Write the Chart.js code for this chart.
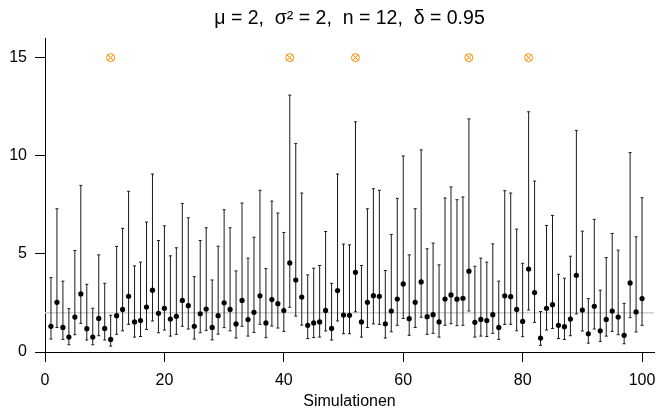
<!DOCTYPE html>
<html>
<head>
<meta charset="utf-8">
<script src="https://cdn.jsdelivr.net/npm/chart.js"></script>
<style>
  html, body { margin: 0; padding: 0; background: #fff; }
  #wrap { width: 659px; height: 411px; }
</style>
</head>
<body>
<div id="wrap"><canvas id="ciChart" width="659" height="411"></canvas></div>
<script>
// true parameter and the level the misses are marked at
const MU = 2;
const MISS_Y = 15;
const TITLE = 'μ = 2,  σ² = 2,  n = 12,  δ = 0.95';
const X_TICKS = [0, 20, 40, 60, 80, 100];
const Y_TICKS = [0, 5, 10, 15];

// point estimates for simulations 1..100
const estimate = [
  1.31, 2.53, 1.25, 0.76, 1.78, 2.96, 1.19, 0.76, 1.71, 1.20,
  0.64, 1.85, 2.17, 2.84, 1.53, 1.60, 2.29, 3.15, 1.97, 2.23,
  1.68, 1.82, 2.63, 2.36, 1.31, 1.95, 2.19, 1.25, 1.85, 2.51,
  2.17, 1.43, 2.63, 1.65, 2.02, 2.86, 1.48, 2.67, 2.46, 2.11,
  4.54, 3.67, 2.80, 1.36, 1.48, 1.53, 2.12, 1.20, 3.13, 1.88,
  1.87, 4.06, 1.53, 2.53, 2.87, 2.84, 1.44, 2.09, 2.70, 3.47,
  1.70, 2.53, 3.57, 1.80, 1.90, 1.53, 2.70, 2.91, 2.69, 2.74,
  4.12, 1.51, 1.66, 1.60, 1.90, 1.25, 2.86, 2.82, 2.17, 1.56,
  4.23, 3.03, 0.71, 2.23, 2.41, 1.36, 1.29, 1.68, 3.91, 2.14,
  0.93, 2.33, 1.08, 1.66, 2.09, 1.78, 0.85, 3.52, 2.04, 2.72
];

// lower interval bounds
const lower = [
  0.66, 1.25, 0.64, 0.37, 0.88, 1.46, 0.61, 0.37, 0.83, 0.61,
  0.30, 0.90, 1.08, 1.41, 0.76, 0.79, 1.15, 1.58, 0.98, 1.12,
  0.81, 0.90, 1.31, 1.17, 0.66, 0.98, 1.10, 0.62, 0.91, 1.24,
  1.08, 0.71, 1.31, 0.81, 1.00, 1.41, 0.73, 1.32, 1.22, 1.05,
  2.28, 1.83, 1.37, 0.68, 0.74, 0.76, 1.07, 0.61, 1.58, 0.93,
  0.93, 2.05, 0.76, 1.25, 1.43, 1.41, 0.71, 1.03, 1.36, 1.71,
  0.85, 1.25, 1.77, 0.90, 0.95, 0.76, 1.36, 1.44, 1.34, 1.36,
  2.09, 0.76, 0.81, 0.79, 0.95, 0.64, 1.41, 1.41, 1.08, 0.78,
  2.14, 1.51, 0.34, 1.12, 1.20, 0.68, 0.64, 0.83, 1.94, 1.07,
  0.45, 1.17, 0.54, 0.81, 1.05, 0.88, 0.42, 1.75, 1.02, 1.36
];

// upper interval bounds
const upper = [
  3.79, 7.30, 3.61, 2.21, 5.17, 8.49, 3.45, 2.23, 4.95, 3.50,
  1.87, 5.38, 6.30, 8.19, 4.39, 4.58, 6.62, 9.07, 5.68, 6.43,
  4.90, 5.31, 7.57, 6.84, 3.84, 5.68, 6.33, 3.67, 5.39, 7.25,
  6.33, 4.13, 7.59, 4.78, 5.85, 8.24, 4.25, 7.69, 7.08, 6.09,
  13.09, 10.62, 8.10, 3.93, 4.27, 4.41, 6.14, 3.50, 9.07, 5.50,
  5.46, 11.73, 4.41, 7.30, 8.32, 8.24, 4.15, 5.99, 7.83, 9.99,
  4.95, 7.30, 10.30, 5.26, 5.55, 4.44, 7.85, 8.41, 7.76, 7.90,
  11.88, 4.37, 4.78, 4.58, 5.51, 3.61, 8.22, 8.10, 6.26, 4.52,
  12.24, 8.71, 2.06, 6.45, 6.96, 3.96, 3.76, 4.88, 11.29, 6.16,
  2.72, 6.76, 3.15, 4.81, 6.04, 5.19, 2.48, 10.16, 5.87, 7.86
];

Chart.defaults.font.family = '"Liberation Sans", Arial, sans-serif';
Chart.defaults.color = '#000';

const sims = estimate.map((_, i) => i + 1);

// vertical segments, broken by null points
const whiskerData = [];
sims.forEach((s, i) => {
  whiskerData.push({ x: s, y: lower[i] });
  whiskerData.push({ x: s, y: upper[i] });
  whiskerData.push({ x: s, y: null });
});
const capData = [];
sims.forEach((s, i) => {
  capData.push({ x: s, y: lower[i] });
  capData.push({ x: s, y: upper[i] });
});
const pointData = sims.map((s, i) => ({ x: s, y: estimate[i] }));
const missData = sims
  .filter((s, i) => lower[i] > MU || upper[i] < MU)
  .map(s => ({ x: s, y: MISS_Y }));

const titlePlugin = {
  id: 'centerTitle',
  afterDraw(chart) {
    const a = chart.chartArea;
    const c = chart.ctx;
    c.save();
    c.font = '19.5px "Liberation Sans", Arial, sans-serif';
    c.fillStyle = '#000';
    c.textAlign = 'center';
    c.textBaseline = 'middle';
    c.fillText(TITLE, (a.left + a.right) / 2, 19);
    c.restore();
  }
};

new Chart(document.getElementById('ciChart'), {
  type: 'scatter',
  data: {
    datasets: [
      {
        label: 'mu',
        type: 'line',
        data: [{ x: 0, y: MU }, { x: 102, y: MU }],
        borderColor: '#d0d0d0',
        borderWidth: 1.5,
        pointRadius: 0,
        order: 10
      },
      {
        label: 'intervals',
        data: whiskerData,
        showLine: true,
        spanGaps: false,
        borderColor: '#1a1a1a',
        borderWidth: 1,
        pointRadius: 0,
        order: 5
      },
      {
        label: 'caps',
        data: capData,
        pointStyle: 'line',
        pointRadius: 1.5,
        borderColor: '#1a1a1a',
        borderWidth: 1,
        order: 4
      },
      {
        label: 'estimate',
        data: pointData,
        pointRadius: 2.6,
        backgroundColor: '#000',
        borderColor: '#000',
        borderWidth: 0,
        order: 1
      },
      {
        label: 'miss ring',
        data: missData,
        pointStyle: 'circle',
        pointRadius: 4,
        backgroundColor: 'rgba(0,0,0,0)',
        borderColor: '#ff8c00',
        borderWidth: 1,
        order: 2
      },
      {
        label: 'miss cross',
        data: missData,
        pointStyle: 'crossRot',
        pointRadius: 4,
        borderColor: '#ff8c00',
        borderWidth: 1,
        order: 2
      }
    ]
  },
  options: {
    responsive: false,
    animation: false,
    devicePixelRatio: 1,
    layout: { padding: { top: 38, right: 4, left: 0, bottom: 0 } },
    scales: {
      x: {
        type: 'linear',
        min: 0,
        max: 102,
        afterBuildTicks: (scale) => { scale.ticks = X_TICKS.map(v => ({ value: v })); },
        afterFit: (scale) => {
          scale.height = 59;
          scale.paddingLeft = 0;
          scale.paddingRight = 0;
        },
        grid: { drawOnChartArea: false, drawTicks: true, tickLength: 10, color: '#000' },
        border: { display: true, color: '#000', width: 1 },
        ticks: { font: { size: 16 }, padding: 9, maxRotation: 0, color: '#000' },
        title: { display: true, text: 'Simulationen', font: { size: 16 }, padding: { top: 0, bottom: 0 }, color: '#000' }
      },
      y: {
        type: 'linear',
        min: 0,
        max: 16,
        afterBuildTicks: (scale) => { scale.ticks = Y_TICKS.map(v => ({ value: v })); },
        afterFit: (scale) => { scale.width = 45; },
        grid: { drawOnChartArea: false, drawTicks: true, tickLength: 10, color: '#000' },
        border: { display: true, color: '#000', width: 1 },
        ticks: { font: { size: 16 }, padding: 8, color: '#000' }
      }
    },
    plugins: {
      legend: { display: false },
      tooltip: { enabled: false },
      title: { display: false }
    }
  },
  plugins: [titlePlugin]
});
</script>
</body>
</html>
